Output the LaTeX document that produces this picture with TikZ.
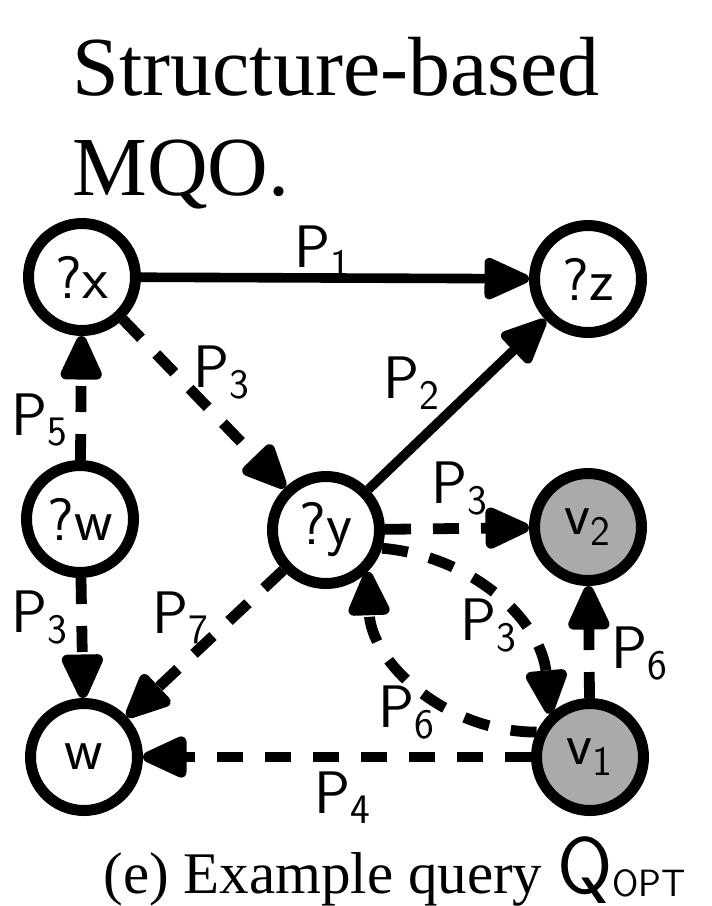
\documentclass[tikz,border=0pt]{standalone}
\usepackage{fontspec}
\setmainfont{Liberation Serif}
\usetikzlibrary{arrows.meta}
\definecolor{vgray}{HTML}{AAAAAA}
\tikzset{
  vnode/.style={circle, draw, line width=5.5pt, minimum size=53.5pt, inner sep=0pt,
    fill=white, font=\sffamily\fontsize{30}{30}\selectfont},
  cnode/.style={vnode, fill=vgray},
  edgeline/.style={line width=4.8pt, -{Triangle[length=26pt,width=22pt,round]}},
  dashedge/.style={edgeline, line width=5.4pt, dash pattern=on 13pt off 11pt},
  plab/.style={anchor=base west, inner sep=0pt, font=\sffamily\fontsize{30}{30}\selectfont},
  titletext/.style={anchor=base west, inner sep=0pt, font=\fontsize{42}{42}\selectfont},
}
\newcommand{\pl}[1]{P$_{\mathsf{#1}}$}
\begin{document}
\begin{tikzpicture}[x=0.5pt, y=-0.5pt]
\useasboundingbox (0,0) rectangle (712,906);
% title
\node[titletext] (t1) at (72,95) {Structure-based};
\node[titletext] (t2) at (72,195) {MQO.};
% nodes
\node[vnode] (qx) at (82,277) {?x};
\node[vnode] (qz) at (588,279) {?z};
\node[vnode] (qw) at (80,519) {?w};
\node[vnode] (qy) at (326,530) {?y};
\node[cnode] (v2) at (588,527) {v$_{\mathsf{2}}$};
\node[vnode] (w) at (84,757) {w};
\node[cnode] (v1) at (590,757) {v$_{\mathsf{1}}$};
% edges
\draw[edgeline] (qx) -- (qz);
\draw[edgeline] (qy) -- (qz);
\draw[dashedge] (qx) -- (qy);
\draw[dashedge] (qw) -- (qx);
\draw[dashedge] (qw) -- (w);
\draw[dashedge] (qy) -- (w);
\draw[dashedge] (qy) -- (v2);
\draw[dashedge] (qy.-18) to[out=-5, in=95] (v1.133);
\draw[dashedge] (v1.155) to[out=180, in=-88] (qy.-45);
\draw[dashedge] (v1) -- (v2);
\draw[dashedge] (v1) -- (w);
% labels
\node[plab] (l1) at (294,267) {\pl{1}};
\node[plab] (l2) at (383,398) {\pl{2}};
\node[plab] (l3a) at (193,387) {\pl{3}};
\node[plab] (l5) at (11,435) {\pl{5}};
\node[plab] (l3b) at (431,503) {\pl{3}};
\node[plab] (l3c) at (11,632) {\pl{3}};
\node[plab] (l7) at (152,633) {\pl{7}};
\node[plab] (l3d) at (460,640) {\pl{3}};
\node[plab] (l6a) at (611,668) {\pl{6}};
\node[plab] (l6b) at (378,727) {\pl{6}};
\node[plab] (l4) at (314,813) {\pl{4}};
% caption
\node[anchor=base west, inner sep=0pt, font=\fontsize{29.5}{29.5}\selectfont] (cap) at (103,893)
  {(e) Example query {\sffamily\fontsize{40}{40}\selectfont Q}\raisebox{-1.5pt}{\sffamily\fontsize{19}{19}\selectfont OPT}};
\end{tikzpicture}
\end{document}
